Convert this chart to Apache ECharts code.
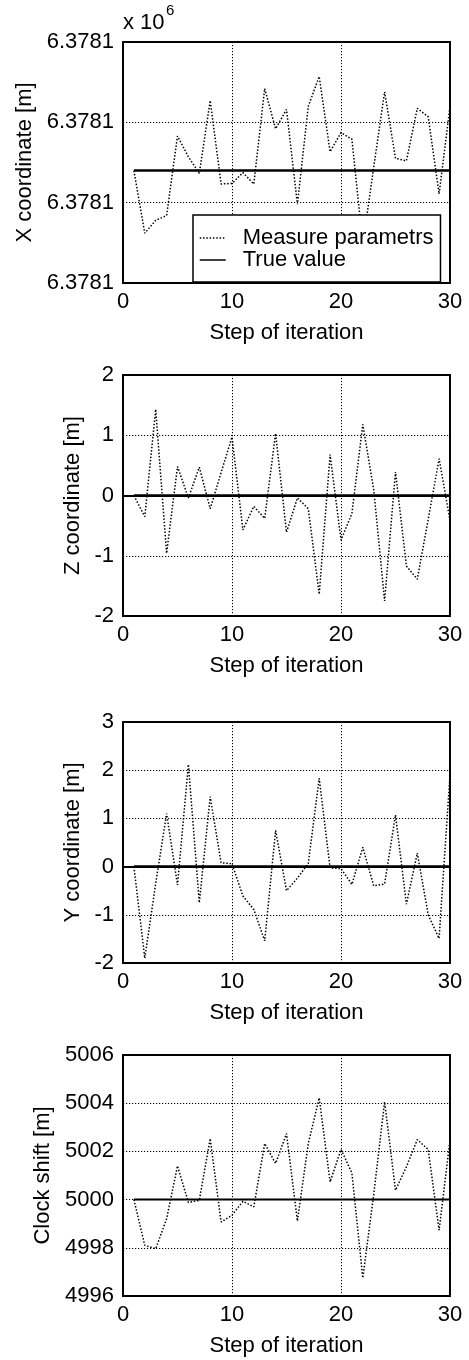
<!DOCTYPE html>
<html>
<head>
<meta charset="utf-8">
<script src="https://cdn.jsdelivr.net/npm/echarts@6/dist/echarts.min.js"></script>
<style>
html,body{margin:0;padding:0;background:#fff;}
#chart{width:469px;height:1360px;}
</style>
</head>
<body>
<div id="chart"></div>
<script>
// ---- data ----
const steps = [1,2,3,4,5,6,7,8,9,10,11,12,13,14,15,16,17,18,19,20,21,22,23,24,25,26,27,28,29,30];
const xMeasured = [6378137.0,6378133.1,6378133.9,6378134.2,6378139.15,6378137.85,6378136.83,6378141.35,6378136.16,6378136.2,
  6378136.87,6378136.16,6378142.1,6378139.6,6378140.8,6378134.9,6378141.0,6378142.85,6378138.17,6378139.36,
  6378138.95,6378132.4,6378137.2,6378141.9,6378137.76,6378137.6,6378140.87,6378140.35,6378135.54,6378141.0];
const xTrue = 6378137;
const zMeasured = [0,-0.35,1.43,-0.96,0.48,-0.04,0.47,-0.22,0.38,0.97,
  -0.57,-0.18,-0.38,1.03,-0.61,-0.04,-0.22,-1.64,0.68,-0.74,
  -0.3,1.18,0.1,-1.75,0.39,-1.17,-1.39,-0.4,0.61,-0.42];
const zTrue = 0;
const yMeasured = [0,-1.9,-0.35,1.1,-0.38,2.12,-0.75,1.45,0.08,0.06,
  -0.61,-0.89,-1.54,0.75,-0.5,-0.24,0.07,1.83,-0.03,-0.04,
  -0.37,0.4,-0.4,-0.36,1.07,-0.78,0.28,-1.0,-1.49,1.9];
const yTrue = 0;
const clockMeasured = [5000,4998.1,4997.96,4999.2,5001.4,4999.88,4999.97,5002.53,4999.07,4999.35,
  4999.93,4999.7,5002.33,5001.5,5002.74,4999.11,5002.33,5004.22,5000.73,5002.08,
  5001.1,4996.75,5000.2,5004.06,5000.39,5001.36,5002.49,5002.08,4998.73,5002.47];
const clockTrue = 5000;
const yNames = ['X coordinate [m]','Z coordinate [m]','Y coordinate [m]','Clock shift [m]'];
const xName = 'Step of iteration';
const legendNames = ['Measure parametrs','True value'];

// ---- chart ----
const FONT = "'Liberation Sans', Arial, Helvetica, sans-serif";
const chart = echarts.init(document.getElementById('chart'));

const gridTops = [42, 375, 722, 1055];
const gridHeight = 241;
const yRanges = [
  {min: 6378130, max: 6378145, interval: 5, fmt: v => (v/1e6).toFixed(4), gap: 86},
  {min: -2, max: 2, interval: 1, fmt: v => String(v), gap: 36},
  {min: -2, max: 3, interval: 1, fmt: v => String(v), gap: 36},
  {min: 4996, max: 5006, interval: 2, fmt: v => String(v), gap: 66}
];
const measured = [xMeasured, zMeasured, yMeasured, clockMeasured];
const trues = [xTrue, zTrue, yTrue, clockTrue];
const trueWidths = [2.6, 2.6, 2.6, 2];

const grids = [], xAxes = [], yAxes = [], series = [];
for (let k = 0; k < 4; k++) {
  grids.push({left: 123, right: 19, top: gridTops[k], height: gridHeight,
    show: true, borderColor: '#000', borderWidth: 2, backgroundColor: 'transparent'});
  xAxes.push({type: 'value', gridIndex: k, min: 0, max: 30, interval: 10,
    name: xName, nameLocation: 'middle', nameGap: 39,
    nameTextStyle: {fontFamily: FONT, fontSize: 22, color: '#000'},
    axisLine: {show: true, lineStyle: {color: '#000', width: 2}},
    axisTick: {show: false},
    axisLabel: {fontFamily: FONT, fontSize: 22, color: '#000', margin: 8},
    splitLine: {show: true, lineStyle: {color: '#000', width: 1, type: [1.2, 1.8]}}});
  const r = yRanges[k];
  yAxes.push({type: 'value', gridIndex: k, min: r.min, max: r.max, interval: r.interval,
    name: yNames[k], nameLocation: 'middle', nameGap: r.gap, nameRotate: 90,
    nameTextStyle: {fontFamily: FONT, fontSize: 22, color: '#000'},
    axisLine: {show: true, lineStyle: {color: '#000', width: 2}},
    axisTick: {show: false},
    axisLabel: {fontFamily: FONT, fontSize: 22, color: '#000', margin: 9, formatter: r.fmt},
    splitLine: {show: true, lineStyle: {color: '#000', width: 1, type: [1.2, 1.8]}}});
  series.push({type: 'line', name: legendNames[0], xAxisIndex: k, yAxisIndex: k,
    data: steps.map((s, i) => [s, measured[k][i]]),
    symbol: 'none', lineStyle: {color: '#000', width: 1.5, type: [1.5, 1.8]},
    itemStyle: {color: '#000'}, animation: false, z: 3});
  series.push({type: 'line', name: legendNames[1], xAxisIndex: k, yAxisIndex: k,
    data: [[steps[0], trues[k]], [steps[steps.length-1], trues[k]]],
    symbol: 'none', lineStyle: {color: '#000', width: trueWidths[k], type: 'solid'},
    itemStyle: {color: '#000'}, animation: false, z: 3});
}

chart.setOption({
  backgroundColor: '#fff',
  animation: false,
  title: [
    {text: 'x 10', left: 123, top: 12, padding: 0,
      textStyle: {fontFamily: FONT, fontSize: 22, fontWeight: 'normal', color: '#000'}},
    {text: '6', left: 166, top: 3, padding: 0,
      textStyle: {fontFamily: FONT, fontSize: 15, fontWeight: 'normal', color: '#000'}}
  ],
  grid: grids,
  xAxis: xAxes,
  yAxis: yAxes,
  legend: {
    data: legendNames, orient: 'vertical', left: 193, top: 215,
    padding: [12, 7, 11, 6], itemGap: 0, itemWidth: 26, itemHeight: 14,
    backgroundColor: '#fff', borderColor: '#000', borderWidth: 1.5, z: 10,
    selectedMode: false,
    itemStyle: {opacity: 0},
    lineStyle: {width: 1.5},
    textStyle: {fontFamily: FONT, fontSize: 22, color: '#000', lineHeight: 20, padding: [0, 0, 0, 12]}
  },
  series: series
});
</script>
</body>
</html>
